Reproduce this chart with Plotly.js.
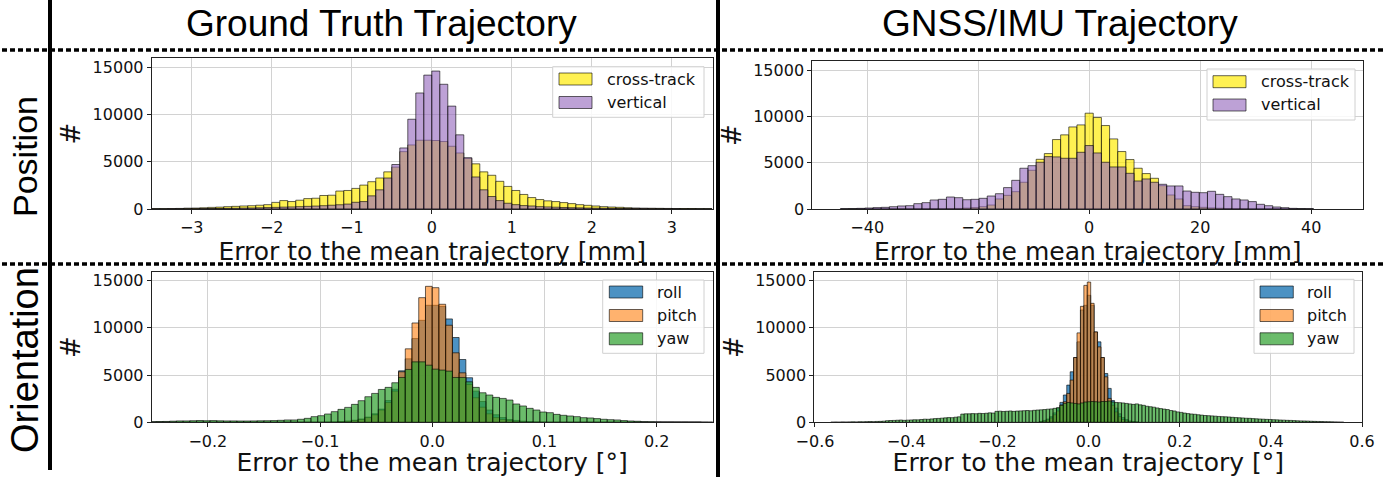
<!DOCTYPE html>
<html>
<head>
<meta charset="utf-8">
<script src="https://cdn.plot.ly/plotly-3.0.1.min.js"></script>
<style>html,body{margin:0;padding:0;background:#fff;}#chart{width:1400px;height:477px;}</style>
</head>
<body>
<div id="chart"></div>
<script>
// ---------- DATA ----------
// Panel 1: Ground truth, position error [mm]; bins of 0.1 mm starting at centre -3.45
const gtPosBinStart = -3.45, gtPosBinSize = 0.1;
const gtPosCrossTrack = [30,30,40,60,90,100,130,170,200,250,280,320,350,400,460,700,890,790,930,1100,1140,1430,1460,1900,1960,2180,2530,2890,3280,3930,4430,6070,6780,7280,7280,7250,7140,6640,5930,5360,4780,3930,3570,2930,2390,1960,1540,1210,1000,860,785,680,570,460,390,320,250,210,180,140,110,90,80,70,60,50,40,40,30,30];
const gtPosVertical = [10,10,20,20,30,30,40,50,60,70,80,100,110,130,150,170,200,220,250,280,310,350,400,450,520,710,785,1390,2030,3280,4710,6460,9500,12280,14170,14600,13200,10890,7850,5430,3390,2030,1320,890,610,460,360,320,250,220,190,160,140,120,100,90,80,70,60,50,40,40,30,30,20,20,10,10,10,10];

// Panel 2: GNSS/IMU, position error [mm]; bins of 1.47 mm starting at centre -44.1
const gnssPosBinStart = -44.1, gnssPosBinSize = 1.47;
const gnssPosCrossTrack = [0,0,0,0,0,10,10,20,20,30,30,40,40,50,60,100,150,250,430,1090,1480,1880,2900,4200,5390,6010,7530,8040,8900,9120,10390,9920,9050,7600,6230,5360,4420,3840,3330,2530,1520,1090,360,250,180,120,80,50,30,20,10,10,0,0,0,0,0,0];
const gnssPosVertical = [20,40,70,110,150,180,250,330,360,580,690,980,1050,1300,1230,1010,1050,1160,1410,1660,2320,3110,4420,4700,5070,5680,5650,5500,5500,6150,6880,6080,5070,4560,4560,3870,3040,3260,2900,2680,2500,2500,1950,1810,1770,1920,1590,1340,1090,980,800,510,360,220,145,70,40,20];

// Panel 3: Ground truth, orientation error [deg]; bins of 0.006 deg starting at centre -0.249
const gtOriBinStart = -0.249, gtOriBinSize = 0.006;
const gtOriRoll = [0,0,0,0,0,0,0,0,0,0,0,0,0,0,0,0,0,0,0,0,0,0,0,0,0,0,20,40,80,130,220,350,550,900,1400,2300,3500,5450,6720,8870,10800,12390,12390,12280,10950,8980,6650,4720,3300,2200,1300,800,500,300,200,120,80,40,20,0,0,0,0,0,0,0,0,0,0,0,0,0,0,0,0,0,0,0,0,0,0,0,0,0];
const gtOriPitch = [0,0,0,0,0,0,0,0,0,0,0,0,0,0,0,0,0,0,0,0,0,0,0,0,0,0,0,0,60,100,180,300,500,800,1300,2100,3300,5350,7780,10520,13200,14400,14260,12500,10280,7360,5240,4000,2600,1600,900,500,300,180,100,60,0,0,0,0,0,0,0,0,0,0,0,0,0,0,0,0,0,0,0,0,0,0,0,0,0,0];
const gtOriYaw = [60,80,90,120,150,150,170,190,170,180,160,150,150,140,140,150,160,170,180,210,250,250,320,420,600,700,880,1130,1370,1580,1900,2290,2710,3060,3480,3700,4190,4750,5600,6400,6400,6050,5630,5530,5420,4750,4750,4290,3700,3130,2890,2640,2530,2360,1940,1730,1480,1300,1090,1020,840,740,670,600,490,460,390,320,280,250,180,140,110,70,50,40,30,30,20,20,10,10,10,0];

// Panel 4: GNSS/IMU, orientation error [deg]; bins of 0.0075 deg
const gnssOriBinSize = 0.0075;
const gnssOriRollPitchBinStart = -0.104;
const gnssOriRoll = [100,200,350,600,1000,1500,2110,2890,3940,5350,6860,8520,11900,12390,13450,12390,9570,8520,6860,5170,3590,2300,1500,900,500,300,150,80,40];
const gnssOriPitch = [60,120,250,450,800,1200,1830,2180,3060,4470,6860,9470,12280,14500,14850,12600,9570,7990,6860,4820,2530,1800,1100,600,300,150,80,40,20];
const gnssOriYawBinStart = -0.5615;
const gnssOriYaw = [20,30,20,40,30,40,50,40, 60,50,70,80,70,90,100,120, 170,190,200,220,240,210,230,250, 270,260,300,330,320,360,390,410, 440,470,500,490,540,580,870,900, 900,920,910,950,930,960,1000,980, 1160,1180,1150,1170,1200,1160,1190,1210, 1230,1250,1220,1270,1300,1320,1350,1390, 1420,1480,1550,1800,2000,2100,2050,2000, 1950,2050,2150,2180,2200,2180,2150,2200, 2200,2250,2150,2100,2080,2050,2000,1950, 1900,1950,1850,1800,1700,1650,1600,1520, 1450,1400,1350,1250,1200,1100,1050,980, 920,880,850,800,760,720,700,680, 650,620,600,580,560,530,500,480, 460,430,420,390,370,350,330,310, 300,280,260,240,230,210,200,180, 160,150,140,130,110,100,90,80, 70,60,50,40,30,20];

// Tick labels
const posGtTicks = [-3,-2,-1,0,1,2,3];
const posGnssTicks = [-40,-20,0,20,40];
const oriGtTicks = [-0.2,-0.1,0,0.1,0.2];
const oriGnssTicks = [-0.6,-0.4,-0.2,0,0.2,0.4,0.6];
const countTicks = [0,5000,10000,15000];

const posNames = ['cross-track','vertical'];
const oriNames = ['roll','pitch','yaw'];
const columnTitles = ['Ground Truth Trajectory','GNSS/IMU Trajectory'];
const rowTitles = ['Position','Orientation'];
const xTitlePos = 'Error to the mean trajectory [mm]';
const xTitleOri = 'Error to the mean trajectory [°]';

// ---------- STYLE ----------
const W = 1400, H = 477;
const px = x => x / W;
const py = y => 1 - y / H;
const FONT = 'DejaVu Sans, Verdana, sans-serif';
const TITLEFONT = 'Liberation Sans, Arial, sans-serif';
const colYellow = 'rgba(255,234,0,0.68)';
const colPurple = 'rgba(148,103,189,0.62)';
const colBlue = 'rgba(31,119,180,0.8)';
const colOrange = 'rgba(255,127,14,0.6)';
const colGreen = 'rgba(44,160,44,0.7)';
const edge = {color: 'rgba(0,0,0,0.6)', width: 1};

function bars(y, x0, dx, color, name, xa, ya) {
  return {type: 'bar', y: y, x0: x0, dx: dx, width: dx, name: name,
    marker: {color: color, line: edge}, xaxis: xa, yaxis: ya, showlegend: false,
    hovertemplate: name + ': %{y}<extra></extra>'};
}

const data = [
  bars(gtPosCrossTrack, gtPosBinStart, gtPosBinSize, colYellow, posNames[0], 'x', 'y'),
  bars(gtPosVertical, gtPosBinStart, gtPosBinSize, colPurple, posNames[1], 'x', 'y'),
  bars(gnssPosCrossTrack, gnssPosBinStart, gnssPosBinSize, colYellow, posNames[0], 'x2', 'y2'),
  bars(gnssPosVertical, gnssPosBinStart, gnssPosBinSize, colPurple, posNames[1], 'x2', 'y2'),
  bars(gtOriRoll, gtOriBinStart, gtOriBinSize, colBlue, oriNames[0], 'x3', 'y3'),
  bars(gtOriPitch, gtOriBinStart, gtOriBinSize, colOrange, oriNames[1], 'x3', 'y3'),
  bars(gtOriYaw, gtOriBinStart, gtOriBinSize, colGreen, oriNames[2], 'x3', 'y3'),
  bars(gnssOriRoll, gnssOriRollPitchBinStart, gnssOriBinSize, colBlue, oriNames[0], 'x4', 'y4'),
  bars(gnssOriPitch, gnssOriRollPitchBinStart, gnssOriBinSize, colOrange, oriNames[1], 'x4', 'y4'),
  bars(gnssOriYaw, gnssOriYawBinStart, gnssOriBinSize, colGreen, oriNames[2], 'x4', 'y4')
];

function xax(domain, range, ticks, fmt, title, anchor) {
  return {domain: domain, range: range, tickvals: ticks, tickformat: fmt, anchor: anchor,
    showline: true, mirror: true, linecolor: '#222', linewidth: 1,
    ticks: 'outside', ticklen: 4, tickcolor: '#222', showgrid: true, gridcolor: '#d2d2d2', gridwidth: 1,
    zeroline: false, tickfont: {family: FONT, size: 16, color: '#111'},
    title: {text: title, font: {family: FONT, size: 25, color: '#111'}, standoff: 4}};
}
function yax(domain, range, anchor) {
  return {domain: domain, range: range, tickvals: countTicks, tickformat: 'd', anchor: anchor,
    showline: true, mirror: true, linecolor: '#222', linewidth: 1,
    ticks: 'outside', ticklen: 4, tickcolor: '#222', showgrid: true, gridcolor: '#d2d2d2', gridwidth: 1,
    zeroline: false, tickfont: {family: FONT, size: 16, color: '#111'},
    title: {text: '#', font: {family: FONT, size: 26, color: '#111'}, standoff: 4}};
}

const leftX = [px(151.7), px(712.7)];
const rightTopX = [px(812.3), px(1363.3)];
const rightBotX = [px(814.3), px(1362.3)];

const shapes = [];
const annotations = [];

// frame lines
const blackLine = {color: '#000', width: 4};
shapes.push({type: 'line', xref: 'paper', yref: 'paper', x0: px(50), x1: px(50), y0: py(0), y1: py(470), line: blackLine});
shapes.push({type: 'line', xref: 'paper', yref: 'paper', x0: px(718), x1: px(718), y0: py(0), y1: py(477), line: blackLine});
shapes.push({type: 'line', xref: 'paper', yref: 'paper', x0: px(2), x1: px(1384), y0: py(50), y1: py(50), line: {color: '#000', width: 3.5, dash: '5px,3px'}});
shapes.push({type: 'line', xref: 'paper', yref: 'paper', x0: px(2), x1: px(1384), y0: py(264), y1: py(264), line: {color: '#000', width: 3.5, dash: '5px,3px'}});

// headings
annotations.push({text: columnTitles[0], xref: 'paper', yref: 'paper', x: px(381), y: py(24), showarrow: false, xanchor: 'center', yanchor: 'middle', font: {family: TITLEFONT, size: 37, color: '#000'}});
annotations.push({text: columnTitles[1], xref: 'paper', yref: 'paper', x: px(1060), y: py(24), showarrow: false, xanchor: 'center', yanchor: 'middle', font: {family: TITLEFONT, size: 37, color: '#000'}});
annotations.push({text: rowTitles[0], xref: 'paper', yref: 'paper', x: px(25), y: py(157), showarrow: false, textangle: -90, xanchor: 'center', yanchor: 'middle', font: {family: TITLEFONT, size: 34, color: '#000'}});
annotations.push({text: rowTitles[1], xref: 'paper', yref: 'paper', x: px(25), y: py(360), showarrow: false, textangle: -90, xanchor: 'center', yanchor: 'middle', font: {family: TITLEFONT, size: 38, color: '#000'}});

// custom legends (matplotlib style)
function legend(box, patchX, textX, rows, names, colors) {
  shapes.push({type: 'rect', xref: 'paper', yref: 'paper', x0: px(box[0]), x1: px(box[1]), y0: py(box[2]), y1: py(box[3]),
    fillcolor: 'rgba(255,255,255,0.85)', line: {color: '#d0d0d0', width: 1}});
  names.forEach((n, i) => {
    const yc = rows[i];
    shapes.push({type: 'rect', xref: 'paper', yref: 'paper', x0: px(patchX[0]), x1: px(patchX[1]), y0: py(yc - 6), y1: py(yc + 6),
      fillcolor: colors[i], line: {color: 'rgba(0,0,0,0.6)', width: 1}});
    annotations.push({text: n, xref: 'paper', yref: 'paper', x: px(textX), y: py(yc), showarrow: false, xanchor: 'left', yanchor: 'middle',
      font: {family: FONT, size: 16, color: '#111'}});
  });
}
legend([552.7, 704, 66.7, 117.3], [559, 592], 605, [79, 102.5], posNames, [colYellow, colPurple]);
legend([1207, 1355, 69, 120], [1213, 1246], 1259, [81.7, 105], posNames, [colYellow, colPurple]);
legend([602.7, 704, 280, 353.3], [609.3, 642.7], 655, [292, 315.5, 338.8], oriNames, [colBlue, colOrange, colGreen]);
legend([1254, 1354, 279.3, 353.3], [1260, 1293.3], 1305, [292, 315.5, 338.8], oriNames, [colBlue, colOrange, colGreen]);

const layout = {
  width: W, height: H, margin: {l: 0, r: 0, t: 0, b: 0}, paper_bgcolor: '#fff', plot_bgcolor: '#fff',
  barmode: 'overlay', bargap: 0, showlegend: false,
  xaxis: xax(leftX, [-3.5, 3.51], posGtTicks, 'd', xTitlePos, 'y'),
  yaxis: yax([py(209), py(58.3)], [0, 15950], 'x'),
  xaxis2: xax(rightTopX, [-49.9, 49.4], posGnssTicks, 'd', xTitlePos, 'y2'),
  yaxis2: yax([py(209), py(61)], [0, 16050], 'x2'),
  xaxis3: xax(leftX, [-0.25, 0.25], oriGtTicks, '.1f', xTitleOri, 'y3'),
  yaxis3: yax([py(422.3), py(271.7)], [0, 15950], 'x3'),
  xaxis4: xax(rightBotX, [-0.6015, 0.6005], oriGnssTicks, '.1f', xTitleOri, 'y4'),
  yaxis4: yax([py(422.3), py(271.7)], [0, 15950], 'x4'),
  shapes: shapes, annotations: annotations
};

Plotly.newPlot('chart', data, layout, {staticPlot: true, displayModeBar: false});
</script>
</body>
</html>
